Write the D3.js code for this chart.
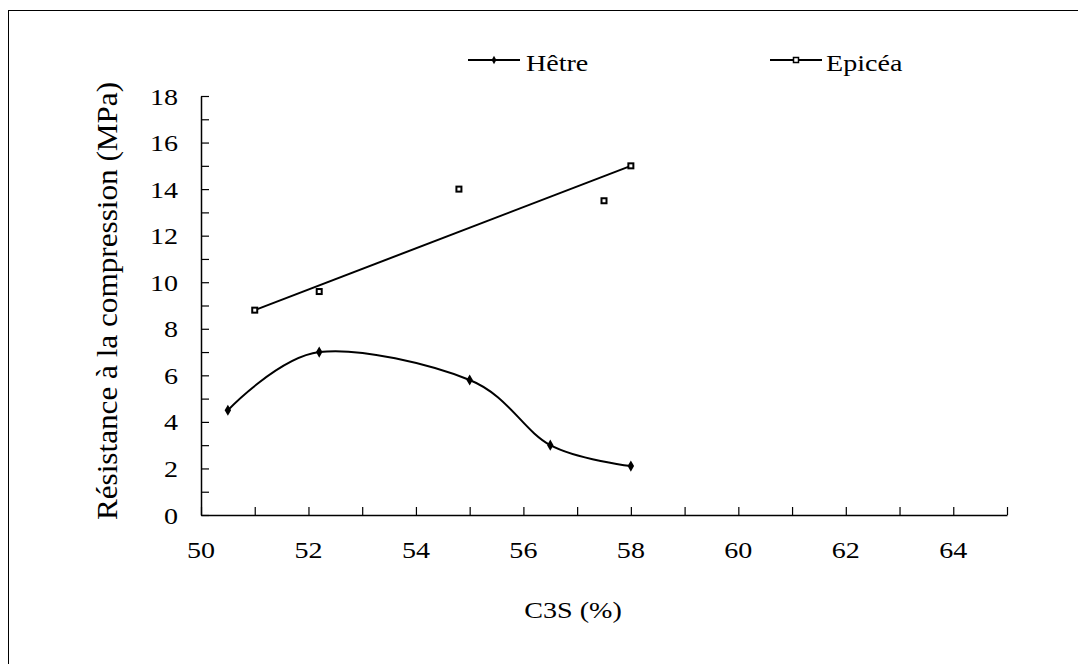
<!DOCTYPE html>
<html><head><meta charset="utf-8">
<script src="https://cdn.jsdelivr.net/npm/d3@7"></script>
<style>html,body{margin:0;padding:0;background:#fff;}svg{display:block;}</style>
</head><body>
<svg id="chart" width="1078" height="664"></svg>
<script>
const hetreX = [50.5, 52.2, 55.0, 56.5, 58.0];
const hetreY = [4.5, 7.0, 5.8, 3.0, 2.1];
const epiceaX = [51.0, 52.2, 54.8, 57.5, 58.0];
const epiceaY = [8.8, 9.6, 14.0, 13.5, 15.0];
const epiceaTrendX = [51.0, 58.0];
const epiceaTrendY = [8.8, 15.0];
const xTickLabels = [50, 52, 54, 56, 58, 60, 62, 64];
const yTickLabels = [0, 2, 4, 6, 8, 10, 12, 14, 16, 18];
const seriesNames = ["Hêtre", "Epicéa"];

const svg = d3.select("#chart");
const FONT = "Liberation Serif";
const FS = 24;      // glyph height
const SX = 1.17;    // horizontal stretch of the original picture
function txt(sel) { return sel.style("font-family", FONT).attr("fill", "#000").attr("font-size", FS); }

svg.append("rect").attr("x", 8.5).attr("y", 10.5).attr("width", 1100).attr("height", 700)
  .attr("fill", "none").attr("stroke", "#000").attr("stroke-width", 1);

const x = d3.scaleLinear().domain([50, 65]).range([201, 1007]);
const y = d3.scaleLinear().domain([0, 18]).range([515, 96]);

const gx = svg.append("g").attr("transform", `translate(0,${y(0)})`)
  .call(d3.axisBottom(x).tickValues(d3.range(50, 66, 1)).tickSizeInner(-8).tickSizeOuter(0).tickFormat(""));
const gy = svg.append("g").attr("transform", `translate(${x(50)},0)`)
  .call(d3.axisLeft(y).tickValues(d3.range(0, 19, 1)).tickSizeInner(-8).tickSizeOuter(0).tickFormat(""));
[gx, gy].forEach(g => {
  g.select(".domain").attr("stroke", "#000").attr("stroke-width", 1.5);
  g.selectAll(".tick line").attr("stroke", "#000").attr("stroke-width", 1.2);
});

txt(svg.append("g").selectAll("text").data(xTickLabels).join("text")
  .attr("transform", d => `translate(${x(d)},558) scale(${SX},1)`).attr("text-anchor", "middle")
  .text(d => d));
txt(svg.append("g").selectAll("text").data(yTickLabels).join("text")
  .attr("transform", d => `translate(178,${y(d) + 8.5}) scale(${SX},1)`).attr("text-anchor", "end")
  .text(d => d));

txt(svg.append("text").attr("transform", `translate(573,618) scale(${SX},1)`).attr("text-anchor", "middle")
  .text("C3S (%)"));
txt(svg.append("text").attr("transform", `translate(117,301) rotate(-90) scale(1.2,${SX})`)
  .attr("text-anchor", "middle").attr("font-size", 26)
  .text("Résistance à la compression (MPa)")).attr("font-size", 26);

const hetre = hetreX.map((v, i) => [v, hetreY[i]]);
svg.append("path").datum(hetre)
  .attr("d", d3.line().x(d => x(d[0])).y(d => y(d[1])).curve(d3.curveCardinal.tension(0)))
  .attr("fill", "none").attr("stroke", "#000").attr("stroke-width", 2);
svg.append("g").selectAll("path").data(hetre).join("path")
  .attr("d", d3.symbol().type(d3.symbolDiamond).size(36)).attr("transform", d => `translate(${x(d[0])},${y(d[1])})`)
  .attr("fill", "#000");

const trend = epiceaTrendX.map((v, i) => [v, epiceaTrendY[i]]);
svg.append("path").datum(trend)
  .attr("d", d3.line().x(d => x(d[0])).y(d => y(d[1])))
  .attr("fill", "none").attr("stroke", "#000").attr("stroke-width", 2);
const epicea = epiceaX.map((v, i) => [v, epiceaY[i]]);
svg.append("g").selectAll("rect").data(epicea).join("rect")
  .attr("x", d => x(d[0]) - 2.5).attr("y", d => y(d[1]) - 2.5)
  .attr("width", 5).attr("height", 5)
  .attr("fill", "#fff").attr("stroke", "#000").attr("stroke-width", 2);

const legend = [
  {name: seriesNames[0], x0: 468, x1: 520, tx: 526},
  {name: seriesNames[1], x0: 770, x1: 822, tx: 826}
];
legend.forEach((l, i) => {
  const g = svg.append("g");
  g.append("line").attr("x1", l.x0).attr("x2", l.x1).attr("y1", 60).attr("y2", 60)
    .attr("stroke", "#000").attr("stroke-width", 2);
  const cx = (l.x0 + l.x1) / 2;
  if (i === 0) {
    g.append("path").attr("d", d3.symbol().type(d3.symbolDiamond).size(20)).attr("transform", `translate(${cx},60)`).attr("fill", "#000");
  } else {
    g.append("rect").attr("x", cx - 2.5).attr("y", 57.5).attr("width", 5).attr("height", 5)
      .attr("fill", "#fff").attr("stroke", "#000").attr("stroke-width", 1.5);
  }
  txt(g.append("text").attr("transform", `translate(${l.tx},70.5) scale(${SX},1)`).text(l.name));
});
</script>
</body></html>
